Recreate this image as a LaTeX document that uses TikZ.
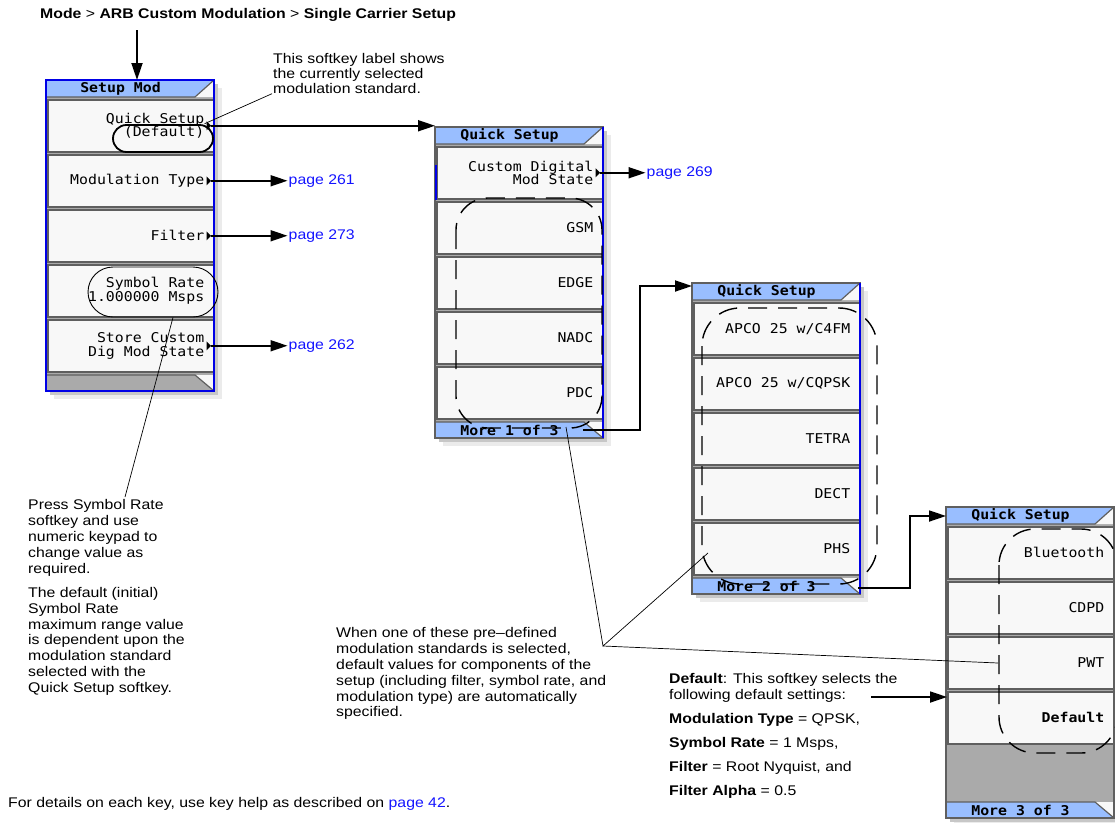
\documentclass[tikz,border=0pt]{standalone}
\usepackage{fontspec}
\setmainfont{Liberation Sans}[FakeStretch=1.13]
\newfontfamily\tastenfont{DejaVu Sans Mono}[FakeStretch=1.1]
\usetikzlibrary{arrows.meta,positioning}

\definecolor{titelblau}{RGB}{153,190,255}
\definecolor{tastenweiss}{RGB}{248,248,248}
\definecolor{panelgrau}{RGB}{170,170,170}
\definecolor{kante}{RGB}{95,95,95}
\definecolor{rahmenblau}{RGB}{0,0,230}
\definecolor{linkblau}{RGB}{20,20,255}

% Softkey-Menue, lokal 168 x 311
\newcommand{\menurahmen}[4]{%
    \fill[black!8] (8,8) rectangle (176,319); %Schatten
    \fill[black!22] (4,4) rectangle (172,315);
    \fill[panelgrau] (0,0) rectangle (168,311);
    \fill[titelblau] (0,0) -- (168,0) -- (149,17) -- (0,17) -- cycle; %Titel
    \fill[tastenweiss] (168,0) -- (168,17) -- (149,17) -- cycle;
    \draw[kante, line width=1.2pt] (0,17) -- (149,17) -- (168,0);
    \node[titel] (#1) at (74.5,8.5) {#2};
    \fill[#4] (0,295) -- (149,295) -- (168,311) -- (0,311) -- cycle; %Fussleiste
    \fill[tastenweiss] (149,295) -- (168,295) -- (168,311) -- cycle;
    \draw[kante, line width=1.2pt] (0,295) -- (149,295) -- (168,311);
    \node[titel] at (74.5,303) {#3};
    \draw[kante, line width=1.5pt] (0,0) rectangle (168,311);
}
% Untermenue-Dreieck
\newcommand{\pfeilchen}[1]{%
    \fill ([xshift=-8pt,yshift=4.5pt]#1.east) -- ([xshift=-3.5pt]#1.east) -- ([xshift=-8pt,yshift=-4.5pt]#1.east) -- cycle;
}

\begin{document}
\begin{tikzpicture}[x=1pt, y=-1pt,
    taste/.style={draw=kante, fill=tastenweiss, line width=1.5pt, minimum width=166pt, minimum height=52pt, inner sep=0pt, anchor=north west},
    tastentext/.style={font=\tastenfont\fontsize{13.5}{13.5}\selectfont, text=black, align=right, anchor=east, inner sep=0pt},
    titel/.style={font=\tastenfont\bfseries\fontsize{13.5}{13.5}\selectfont, inner sep=0pt},
    notiz/.style={font=\fontsize{14}{15.8}\selectfont, align=left, anchor=north west, inner sep=0pt},
    seite/.style={font=\fontsize{14}{16}\selectfont, text=linkblau, inner sep=1pt},
    verbinder/.style={line width=1.8pt, -{Triangle[length=17pt,width=11pt]}},
    hinweis/.style={line width=0.7pt},
    auswahl/.style={line width=1.4pt, dash pattern=on 19pt off 11pt}]
    \useasboundingbox (0,0) rectangle (1115,822);

    %Menue Setup Mod
    \begin{scope}[shift={(46,80)}]
        \menurahmen{smt}{Setup Mod}{}{panelgrau}
        \foreach[count=\k] \t in {{Quick Setup\\(Default)}, {Modulation Type}, {Filter}, {Symbol Rate\\1.000000 Msps}, {Store Custom\\Dig Mod State}} {
            \node[taste] (sm\k) at (1,{19+55*(\k-1)}) {};
            \node[tastentext] at ([xshift=-10pt]sm\k.east) {\t};
        }
        \foreach \k in {1,2,3,5} {\pfeilchen{sm\k}}
        \draw[rahmenblau, line width=2.2pt] (0,0) rectangle (168,311);
        \coordinate (smein) at (91,0);
    \end{scope}

    %Quick Setup 1
    \begin{scope}[shift={(435,127)}]
        \menurahmen{qat}{Quick Setup}{More 1 of 3}{titelblau}
        \foreach[count=\k] \t in {{Custom Digital\\Mod State}, GSM, EDGE, NADC, PDC} {
            \node[taste] (qa\k) at (1,{19+55*(\k-1)}) {};
            \node[tastentext] at ([xshift=-10pt]qa\k.east) {\t};
        }
        \pfeilchen{qa1}
        \draw[rahmenblau, line width=1.2pt] (168,0) -- (168,311);
        \draw[rahmenblau, line width=1.5pt] (1,38) -- (1,73);
        \coordinate (qein1) at (0,1);
        \coordinate (qaus1) at (148,303);
    \end{scope}

    %Quick Setup 2
    \begin{scope}[shift={(692,283)}]
        \menurahmen{qbt}{Quick Setup}{More 2 of 3}{titelblau}
        \foreach[count=\k] \t in {{APCO 25 w/C4FM}, {APCO 25 w/CQPSK}, TETRA, DECT, PHS} {
            \node[taste] (qb\k) at (1,{19+55*(\k-1)}) {};
            \node[tastentext] at ([xshift=-10pt]qb\k.east) {\t};
        }
        \draw[rahmenblau, line width=1.2pt] (168,0) -- (168,311);
        \coordinate (qein2) at (0,3);
        \coordinate (qaus2) at (166,305);
    \end{scope}

    %Quick Setup 3
    \begin{scope}[shift={(946,507)}]
        \menurahmen{qct}{Quick Setup}{More 3 of 3}{titelblau}
        \foreach[count=\k] \t in {Bluetooth, CDPD, PWT, \textbf{Default}} {
            \node[taste] (qc\k) at (1,{19+55*(\k-1)}) {};
            \node[tastentext] at ([xshift=-10pt]qc\k.east) {\t};
        }
        \coordinate (qein3) at (0,9);
    \end{scope}

    %Auswahl-Rahmen
    \draw[auswahl, rounded corners=32pt] (456,198) rectangle (602,428);
    \draw[auswahl, rounded corners=38pt] (702,308) rectangle (877,584);
    \draw[auswahl, rounded corners=36pt] (999,529) rectangle (1117,753);
    \node[draw, line width=1.8pt, rounded corners=13.5pt, minimum width=100pt, minimum height=27pt] (dflt) at (163,138.5) {};
    \node[draw, line width=0.9pt, rounded corners=25pt, minimum width=130pt, minimum height=50pt] (srate) at (153,292) {};

    %Verbindungen
    \node[notiz, font=\fontsize{14}{16}\selectfont, anchor=base west] (kopf) at (40,18) {\textbf{Mode} > \textbf{ARB Custom Modulation} > \textbf{Single Carrier Setup}};
    \coordinate (kopfpfeil) at (137,30);
    \draw[verbinder] (kopfpfeil) -- (smein);
    \draw[verbinder] ([xshift=-4pt]sm1.east) -- (sm1.east -| qein1);
    \foreach \k/\s in {2/261, 3/273, 5/262} {
        \node[seite, right=73pt of sm\k] (s\s) {page \s};
        \draw[verbinder] ([xshift=-4pt]sm\k.east) -- (s\s);
    }
    \node[seite, right=42pt of qa1] (s269) {page 269};
    \draw[verbinder] ([xshift=-4pt]qa1.east) -- (s269);
    \draw[verbinder] (qaus1) -- ++(57,0) |- (qein2);
    \draw[verbinder] (qaus2) -- ++(52,0) |- (qein3);

    %Notizen
    \node[notiz, font=\fontsize{14}{15}\selectfont] (qsnotiz) at (273,53) {This softkey label shows\\the currently selected\\modulation standard.};
    \draw[hinweis] ([xshift=-1pt]qsnotiz.south west) -- ([xshift=-10pt,yshift=2pt]sm1.east);

    \node[notiz] (srnotiz) at (28,499.5) {Press Symbol Rate\\softkey and use\\numeric keypad to\\change value as\\required.\\[8.7pt]The default (initial)\\Symbol Rate\\maximum range value\\is dependent upon the\\modulation standard\\selected with the\\Quick Setup softkey.};
    \coordinate (srziel) at (125,497);
    \draw[hinweis] ([xshift=20pt]srate.south) -- (srziel);

    \node[notiz] (stdnotiz) at (336,627.5) {When one of these pre–defined\\modulation standards is selected,\\default values for components of the\\setup (including filter, symbol rate, and\\modulation type) are automatically\\specified.};
    \coordinate (treff) at (603,646);
    \coordinate (std1) at (566,427);
    \coordinate (std2) at (708,553);
    \coordinate (std3) at (998,663);
    \draw[hinweis] (std1) -- (treff) -- (std2);
    \draw[hinweis] (treff) -- (std3);

    \node[notiz, font=\fontsize{14}{16}\selectfont] (defnotiz) at (669,673.5) {\textbf{Default}: This softkey selects the\\following default settings:\\[8pt]\textbf{Modulation Type} = QPSK,\\[8pt]\textbf{Symbol Rate} = 1 Msps,\\[8pt]\textbf{Filter} = Root Nyquist, and\\[8pt]\textbf{Filter Alpha} = 0.5};
    \coordinate (defpfeil) at (871,697);
    \draw[verbinder] (defpfeil) -- (defpfeil -| qc4.west);

    \node[notiz, anchor=base west] (fuss) at (8,807) {For details on each key, use key help as described on \textcolor{linkblau}{page 42}.};
\end{tikzpicture}
\end{document}
